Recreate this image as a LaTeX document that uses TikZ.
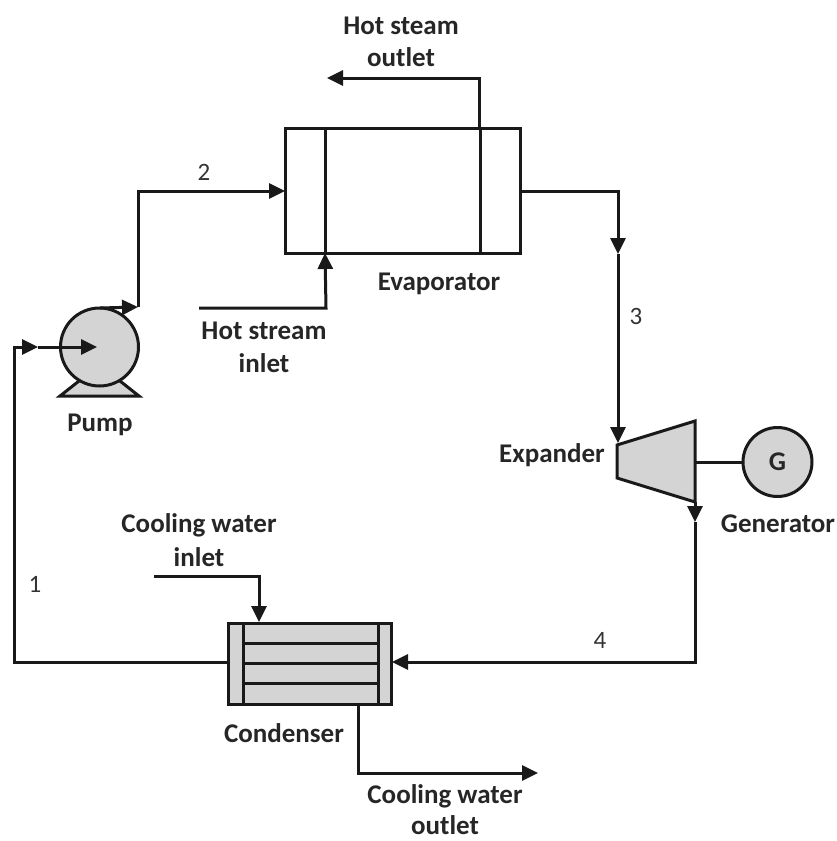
\documentclass[tikz,border=0pt]{standalone}
\usepackage{fontspec}
\setmainfont{Carlito}
\usetikzlibrary{arrows.meta}
\definecolor{eqgray}{RGB}{212,212,212}
\tikzset{
  x=1pt,y=-1pt,
  pipe/.style={line width=3pt,draw=black!90,line join=miter},
  arr/.style={pipe,-{Triangle[length=16pt,width=15pt]}},
  eq/.style={line width=3pt,draw=black!90,fill=eqgray},
  lab/.style={font=\fontsize{27}{31}\selectfont\bfseries,align=center,text=black!85,inner sep=0pt},
  num/.style={font=\fontsize{25}{28}\selectfont,text=black!80,inner sep=0pt}
}
\begin{document}
\begin{tikzpicture}
\useasboundingbox (0,0) rectangle (837,841);
% Evaporator
\node[draw=black!90,line width=3pt,minimum width=235pt,minimum height=125pt,inner sep=0pt] (evap) at (402.5,190.5) {};
\coordinate (evL) at (325,128); \coordinate (evLb) at (325,253);
\coordinate (evR) at (480,128); \coordinate (evRb) at (480,253);
\draw[pipe] (evL) -- (evLb);
\draw[pipe] (evR) -- (evRb);
% Pump
\coordinate (pbl) at (60,396); \coordinate (pbr) at (139,396);
\coordinate (pbl2) at (79,381); \coordinate (pbr2) at (120,381);
\draw[eq] (pbl2) -- (pbl) -- (pbr) -- (pbr2);
\node[circle,eq,minimum size=78pt,inner sep=0pt] (pump) at (99.5,347) {};
\coordinate (pumpin) at (97,347);
\coordinate (pumptop) at (100,308);
% Expander
\coordinate (e1) at (617,445); \coordinate (e2) at (695,421);
\coordinate (e3) at (695,502); \coordinate (e4) at (617,478);
\draw[eq] (e1) -- (e2) -- (e3) -- (e4) -- cycle;
% Generator
\node[circle,eq,minimum size=69pt,inner sep=0pt,font=\fontsize{27}{31}\selectfont\bfseries,text=black!85] (gen) at (777.5,462) {G};
\coordinate (shaft) at (695,462);
\draw[pipe] (shaft) -- (gen.west);
% Condenser
\node[eq,minimum width=163pt,minimum height=81pt,inner sep=0pt] (cond) at (309.5,663.5) {};
\coordinate (cv1a) at (243,623); \coordinate (cv1b) at (243,704);
\coordinate (cv2a) at (378,623); \coordinate (cv2b) at (378,704);
\draw[pipe] (cv1a) -- (cv1b);
\draw[pipe] (cv2a) -- (cv2b);
\coordinate (ch1a) at (243,643.5); \coordinate (ch1b) at (378,643.5);
\coordinate (ch2a) at (243,663.5); \coordinate (ch2b) at (378,663.5);
\coordinate (ch3a) at (243,683.5); \coordinate (ch3b) at (378,683.5);
\draw[pipe] (ch1a) -- (ch1b);
\draw[pipe] (ch2a) -- (ch2b);
\draw[pipe] (ch3a) -- (ch3b);
% Connectors
\coordinate (c1) at (14,662); \coordinate (c2) at (14,347); \coordinate (cm) at (38,347);
\coordinate (condL) at (228,662);
\draw[arr] (condL) -- (c1) -- (c2) -- (cm);
\draw[arr] (cm) -- (pumpin);
\coordinate (c3) at (138,307); \coordinate (c4) at (138,191); \coordinate (evin) at (285,191);
\draw[arr] (pumptop) -- (c3);
\draw[arr] (c3) -- (c4) -- (evin);
\coordinate (hs1) at (199,308); \coordinate (hs2) at (326,308);
\draw[arr] (hs1) -- (hs2) -- (evLb);
\coordinate (ho1) at (479,128); \coordinate (ho2) at (479,78); \coordinate (ho3) at (327,78);
\draw[arr] (ho1) -- (ho2) -- (ho3);
\coordinate (ev1) at (520,191); \coordinate (ev2) at (618,191); \coordinate (ev3) at (618,443);
\coordinate (evm) at (618,254);
\draw[arr] (ev1) -- (ev2) -- (evm);
\draw[arr] (evm) -- (ev3);
\coordinate (x1) at (695,522); \coordinate (x2) at (695,662); \coordinate (x3) at (392,662);
\draw[arr] (e3) -- (x1);
\draw[arr] (x1) -- (x2) -- (x3);
\coordinate (ci1) at (154,576); \coordinate (ci2) at (259,576); \coordinate (ci3) at (259,622);
\draw[arr] (ci1) -- (ci2) -- (ci3);
\coordinate (co1) at (358,704); \coordinate (co2) at (358,773); \coordinate (co3) at (538,773);
\draw[arr] (co1) -- (co2) -- (co3);
% Labels
\node[lab] (l1) at (401,42) {Hot steam\\[1pt]outlet};
\node[lab] (l2) at (264,347) {Hot stream\\[2pt]inlet};
\node[lab] (l3) at (439,284) {Evaporator};
\node[lab] (l4) at (100,425) {Pump};
\node[lab] (l5) at (552,455) {Expander};
\node[lab] (l6) at (778,524) {Generator};
\node[lab] (l7) at (199,540) {Cooling water\\[3pt]inlet};
\node[lab] (l8) at (284,733) {Condenser};
\node[lab] (l9) at (445,810) {Cooling water\\[0pt]outlet};
\node[num] (n1) at (35,584) {1};
\node[num] (n2) at (204,172) {2};
\node[num] (n3) at (636,316) {3};
\node[num] (n4) at (600,640) {4};
\end{tikzpicture}
\end{document}
